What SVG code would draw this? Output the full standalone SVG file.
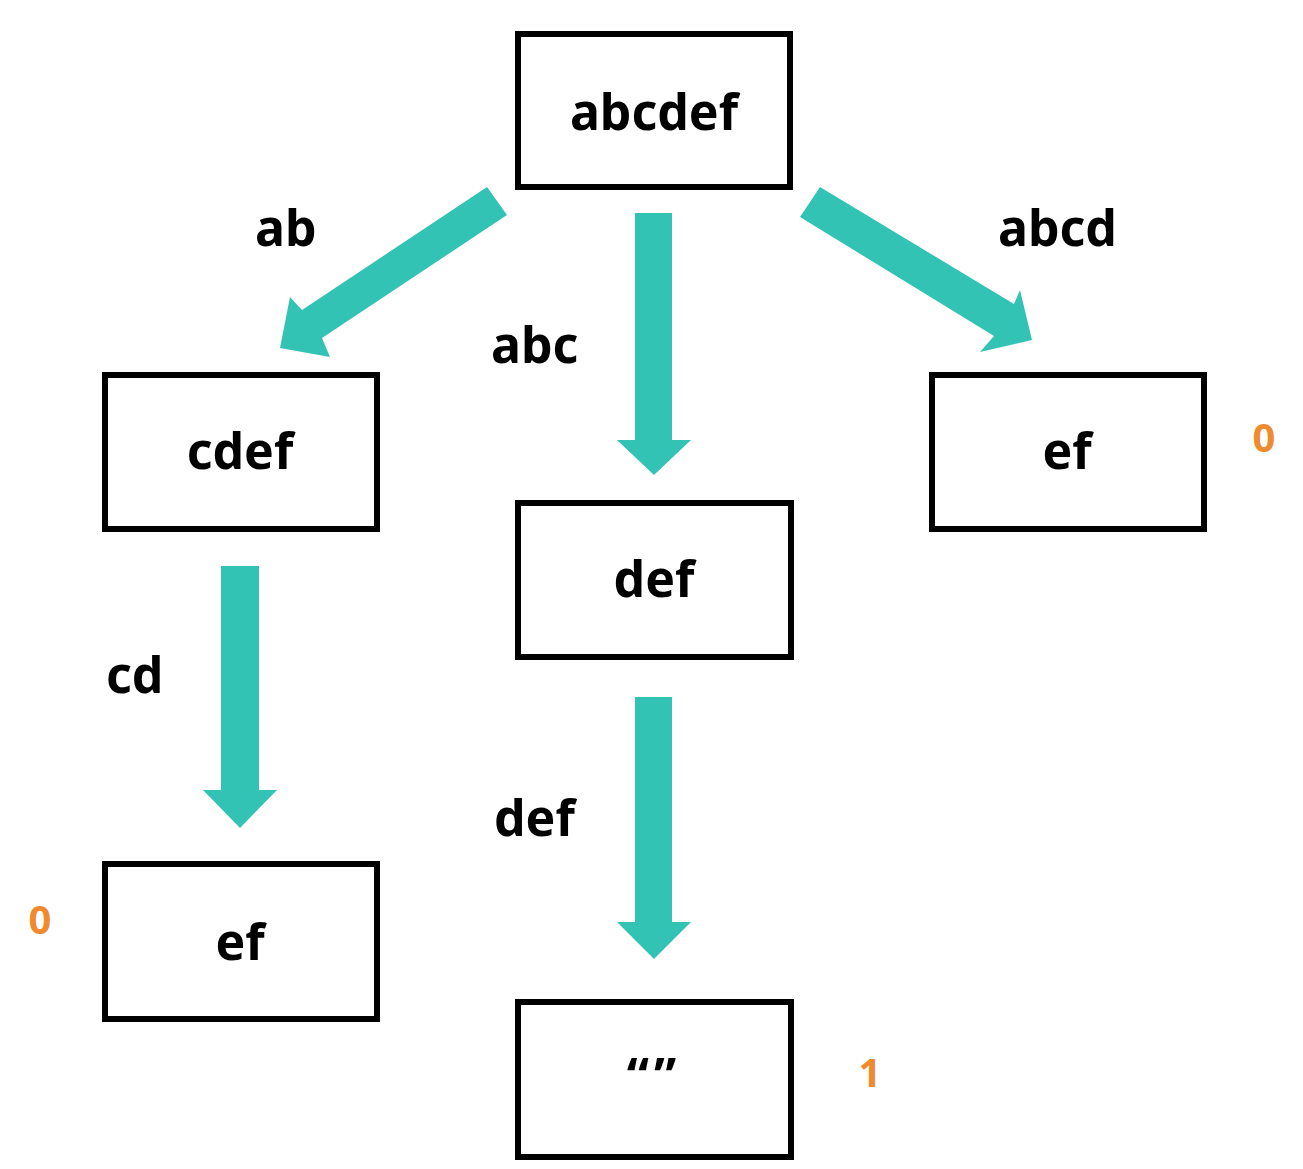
<svg xmlns="http://www.w3.org/2000/svg" width="1303" height="1169" viewBox="0 0 1303 1169">
<style>
.box{fill:#fff;stroke:#000;stroke-width:6}
.t{font-family:"Noto Sans","Open Sans",sans-serif;font-weight:bold;font-size:50px;fill:#000;text-anchor:middle}
.lbl{font-family:"Noto Sans","Open Sans",sans-serif;font-weight:bold;font-size:50px;fill:#000}
.num{font-family:"Noto Sans","Open Sans",sans-serif;font-weight:bold;font-size:40px;fill:#F08A2E;text-anchor:middle}
.arr{fill:#33C3B5}
</style>
<rect width="1303" height="1169" fill="#fff"/>
<g id="connectors">
<polygon class="arr" points="487,187 507,215 322,338 330,357 280,348 290,297 302,310"/>
<polygon class="arr" points="635,213 672,213 672,440 691,440 654,475 617,440 635,440"/>
<polygon class="arr" points="820,187 800,217 994,336 980,352 1032,340 1020,290 1014,304"/>
<polygon class="arr" points="221,566 259,566 259,790 277,790 240,828 203,790 221,790"/>
<polygon class="arr" points="635,697 672,697 672,922 691,922 654,959 617,922 635,922"/>
</g>
<g id="labels">
<text class="lbl" x="255" y="246">ab</text>
<text class="lbl" x="491" y="363">abc</text>
<text class="lbl" x="998" y="246">abcd</text>
<text class="lbl" x="106" y="693">cd</text>
<text class="lbl" x="494" y="836">def</text>
<text class="num" x="1264" y="452">0</text>
<text class="num" x="40" y="934">0</text>
<text class="num" x="870" y="1087">1</text>
</g>
<g id="node-abcdef"><rect class="box" x="518" y="34" width="272" height="153"/><text class="t" x="654" y="130">abcdef</text></g>
<g id="node-cdef"><rect class="box" x="105" y="375" width="272" height="154"/><text class="t" x="240" y="469">cdef</text></g>
<g id="node-def"><rect class="box" x="518" y="503" width="273" height="154"/><text class="t" x="654" y="597">def</text></g>
<g id="node-ef-right"><rect class="box" x="932" y="375" width="272" height="154"/><text class="t" x="1067" y="469">ef</text></g>
<g id="node-ef-left"><rect class="box" x="105" y="864" width="272" height="155"/><text class="t" x="240" y="960">ef</text></g>
<g id="node-empty"><rect class="box" x="518" y="1002" width="273" height="155"/><text class="t" x="654" y="1094" style="letter-spacing:5px">“”</text></g>
</svg>
